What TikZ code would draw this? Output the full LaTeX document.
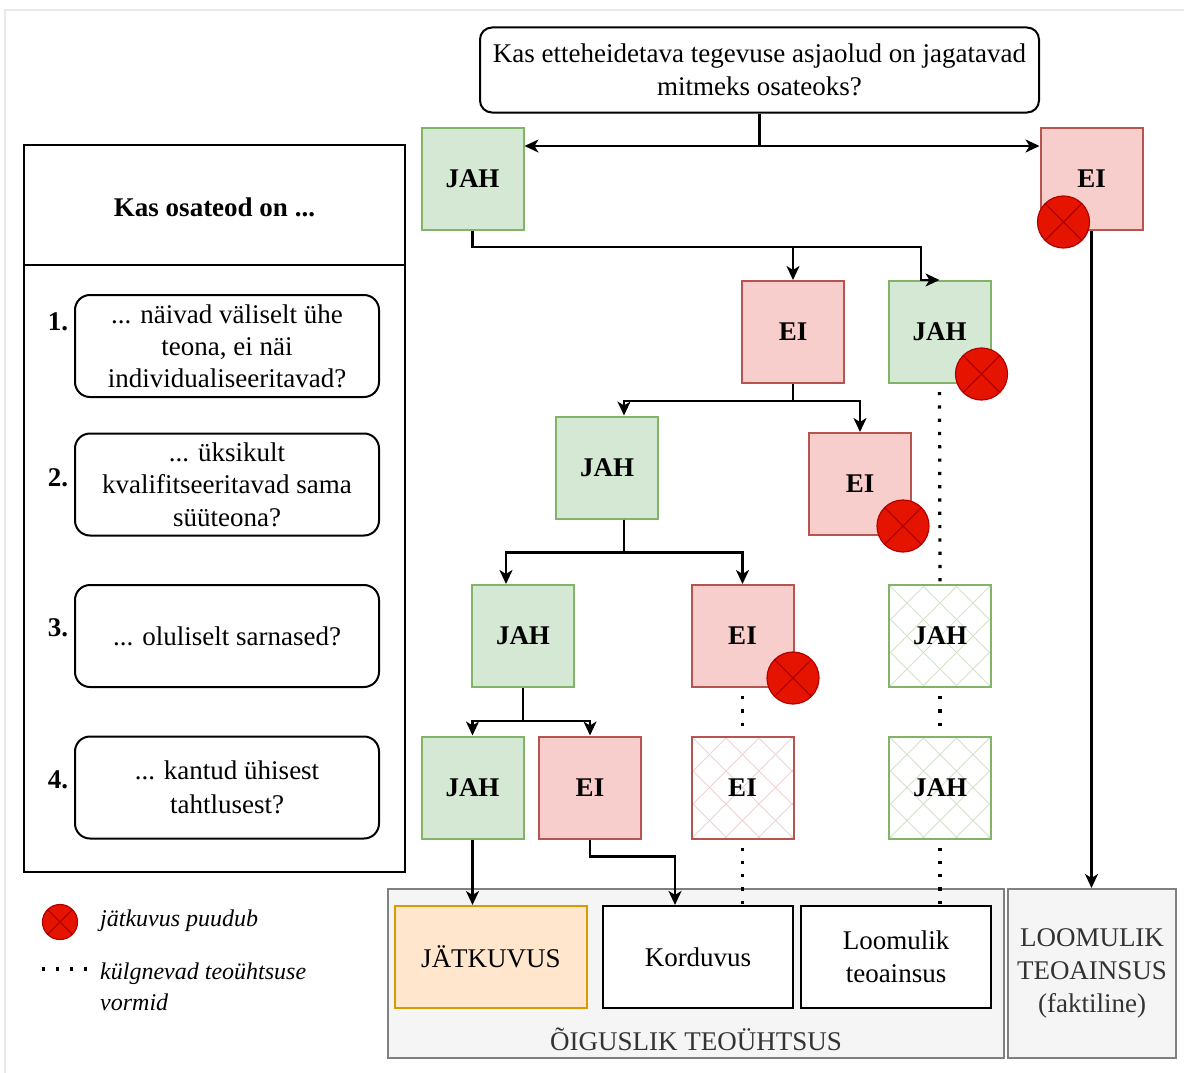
\documentclass[tikz,border=0pt]{standalone}
\usepackage{fontspec}
\setmainfont{Liberation Serif}
\usetikzlibrary{arrows.meta,calc}
\definecolor{gfill}{HTML}{D5E8D4}
\definecolor{gdraw}{HTML}{82B366}
\definecolor{rfill}{HTML}{F8CECC}
\definecolor{rdraw}{HTML}{B85450}
\definecolor{xfill}{HTML}{E51400}
\definecolor{xdraw}{HTML}{B20000}
\definecolor{ofill}{HTML}{FFE6CC}
\definecolor{odraw}{HTML}{D79B00}
\definecolor{grpfill}{HTML}{F5F5F5}
\definecolor{grpdraw}{HTML}{808080}
\definecolor{grptxt}{HTML}{333333}
\definecolor{framecol}{HTML}{E8E8E8}
\tikzset{
  base/.style={font=\fontsize{27}{33}\selectfont, inner sep=0pt, align=center},
  sq/.style={base, minimum width=102pt, minimum height=102pt, line width=2pt,
    font=\fontsize{27}{33}\selectfont\bfseries},
  yes/.style={sq, fill=gfill, draw=gdraw},
  no/.style={sq, fill=rfill, draw=rdraw},
  xhatch/.style={path picture={
    \foreach \i in {-5,...,5}{
      \draw[#1, line width=0.8pt] ($(path picture bounding box.center)+(\i*33pt-90pt,-90pt)$) -- ++(180pt,180pt);
      \draw[#1, line width=0.8pt] ($(path picture bounding box.center)+(\i*33pt-90pt,90pt)$) -- ++(180pt,-180pt);
    }}},
  yeshatch/.style={sq, fill=white, draw=gdraw, xhatch=gdraw!35},
  nohatch/.style={sq, fill=white, draw=rdraw, xhatch=rdraw!25},
  xcirc/.style={circle, fill=xfill, draw=xdraw, line width=1.2pt, minimum size=52pt, inner sep=0pt,
    path picture={\draw[xdraw, line width=1.2pt]
      (path picture bounding box.north east) -- (path picture bounding box.south west)
      (path picture bounding box.north west) -- (path picture bounding box.south east);}},
  qbox/.style={base, draw, line width=2pt, rounded corners=15pt, minimum width=304pt, minimum height=102pt},
  num/.style={base, font=\fontsize{27}{33}\selectfont\bfseries},
  outbox/.style={base, draw, line width=2.2pt, minimum height=102pt},
  grpbox/.style={base, draw=grpdraw, fill=grpfill, line width=2pt, text=grptxt},
  conn/.style={line width=2.2pt, black},
  arr/.style={conn, -{Stealth[length=14pt, width=13pt, inset=4pt]}},
  dotl/.style={line width=3.2pt, black, dash pattern=on 3.2pt off 10.1pt},
  legtext/.style={base, font=\fontsize{24}{31}\selectfont\itshape, align=left}
}
\begin{document}
\begin{tikzpicture}[x=1pt, y=-1pt]
\useasboundingbox (0,0) rectangle (1184,1073);
\fill[white] (0,0) rectangle (1184,1073);
\draw[framecol, line width=1.2pt] (5,10) rectangle (1200,1090);

% question
\node[base, draw, line width=2pt, rounded corners=12pt, minimum width=559pt, minimum height=85pt] (q) at (759.5,70)
  {Kas etteheidetava tegevuse asjaolud on jagatavad\\mitmeks osateoks?};

% left panel
\node[draw, line width=2pt, minimum width=381pt, minimum height=727pt, inner sep=0pt] (lp) at (214.5,508.5) {};
\coordinate (lpd) at (0,265);
\draw[line width=2pt] (lp.west |- lpd) -- (lp.east |- lpd);
\node[num] (hdr) at (214.5,207) {Kas osateod on ...};
\node[qbox, font=\fontsize{27}{32}\selectfont] (b1) at (227,346) {... näivad väliselt ühe\\teona, ei näi\\individualiseeritavad?};
\node[qbox, font=\fontsize{27}{32.5}\selectfont] (b2) at (227,484.5) {... üksikult\\kvalifitseeritavad sama\\süüteona?};
\node[qbox] (b3) at (227,636) {... oluliselt sarnased?};
\node[qbox, font=\fontsize{27}{34}\selectfont] (b4) at (227,787.5) {... kantud ühisest\\tahtlusest?};
\node[num] (n1) at (58,322) {1.};
\node[num] (n2) at (58,478) {2.};
\node[num] (n3) at (58,628) {3.};
\node[num] (n4) at (58,780) {4.};

% decision squares
\node[yes] (j1) at (472.5,179) {JAH};
\node[no]  (e1) at (1091.5,179) {EI};
\node[no]  (e2) at (793,332) {EI};
\node[yes] (j2) at (939.5,332) {JAH};
\node[yes] (j3) at (607,467.5) {JAH};
\node[no]  (e3) at (860,484) {EI};
\node[yes] (j4) at (523,636) {JAH};
\node[no]  (e4) at (742.5,636) {EI};
\node[yeshatch] (j7) at (940,636) {JAH};
\node[yes] (j6) at (472.5,787.5) {JAH};
\node[no]  (e5) at (590,787.5) {EI};
\node[nohatch] (e6) at (742.5,787.5) {EI};
\node[yeshatch] (j8) at (940,787.5) {JAH};

% bottom
\node[grpbox, minimum width=616pt, minimum height=169pt] (grp) at (696,973.5) {};
\node[grpbox, minimum width=168pt, minimum height=169pt] (lom) at (1092,973.5) {LOOMULIK\\TEOAINSUS\\(faktiline)};
\node[base, text=grptxt] (grplab) at (696,1039) {ÕIGUSLIK TEOÜHTSUS};
\node[outbox, fill=ofill, draw=odraw, line width=2pt, minimum width=192pt] (jat) at (491,957) {JÄTKUVUS};
\node[outbox, fill=white, minimum width=190pt] (kor) at (698,957) {Korduvus};
\node[outbox, fill=white, minimum width=189.5pt] (loo) at (896,957) {Loomulik\\teoainsus};

% connectors
\coordinate (qs) at (760,146);
\draw[conn] (q.south) -- (q.south |- qs);
\draw[arr] (q.south |- qs) -- (j1.east |- qs);
\draw[arr] (q.south |- qs) -- (e1.west |- qs);
\coordinate (h1) at (921,247);
\draw[arr] (j1.south) |- (h1) |- (j2.north);
\draw[arr] (e2.north |- h1) -- (e2.north);
\draw[arr] (e2.south) -- ++(0,17) -| ([xshift=17pt]j3.north);
\draw[arr] (e2.south) -- ++(0,17) -| (e3.north);
\draw[arr] ([xshift=17pt]j3.south) -- ++(0,33) -| ([xshift=-17pt]j4.north);
\draw[arr] ([xshift=17pt]j3.south) -- ++(0,33) -| (e4.north);
\draw[arr] (j4.south) -- ++(0,33) -| (j6.north);
\draw[arr] (j4.south) -- ++(0,33) -| (e5.north);
\draw[arr] (j6.south) -- (j6.south |- jat.north);
\draw[arr] (e5.south) -- ++(0,17) -| ([xshift=-23pt]kor.north);
\draw[arr] (e1.south) -- (e1.south |- lom.north);

% dotted
\draw[dotl] ([yshift=-8pt]j2.south) -- (j7.north);
\draw[dotl] ([yshift=-8pt]j7.south) -- (j8.north);
\draw[dotl] ([yshift=-8pt]j8.south) -- (j8.south |- loo.north);
\draw[dotl] ([yshift=-8pt]e4.south) -- (e6.north);
\draw[dotl] ([yshift=-8pt]e6.south) -- (e6.south |- kor.north);

% crosses
\node[xcirc] (c1) at (1063.5,222) {};
\node[xcirc] (c2) at (981.5,374) {};
\node[xcirc] (c3) at (903,526) {};
\node[xcirc] (c4) at (793,678) {};

% legend
\node[xcirc, minimum size=35pt] (lc) at (60,922) {};
\node[legtext, anchor=west] (lt1) at (100,921) {jätkuvus puudub};
\coordinate (ld1) at (42,969);
\coordinate (ld2) at (88,969);
\draw[dotl, dash pattern=on 3.2pt off 10.8pt] (ld1) -- (ld2);
\node[legtext, anchor=west] (lt2) at (100,987) {külgnevad teoühtsuse\\vormid};
\end{tikzpicture}
\end{document}
